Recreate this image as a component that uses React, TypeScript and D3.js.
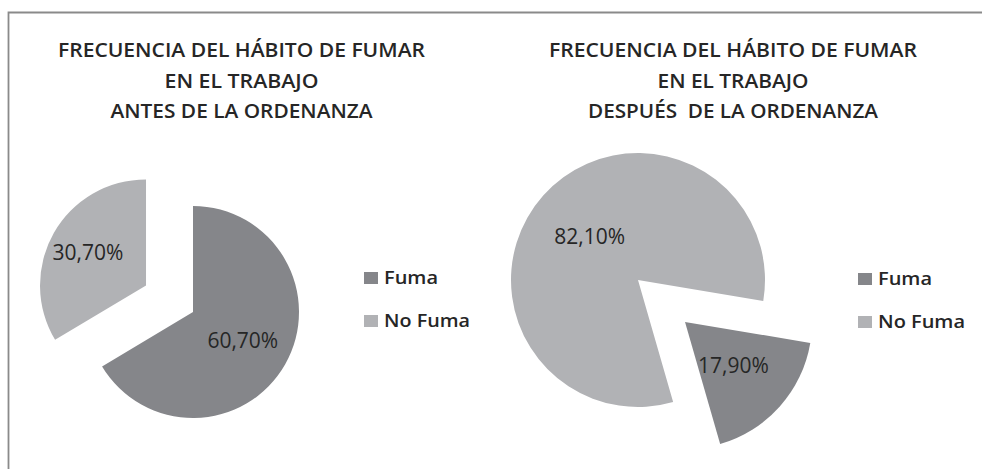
import React from "react";
import * as d3 from "d3";

const categories = ["Fuma", "No Fuma"];
const beforeValues = [60.7, 30.7];
const afterValues = [17.9, 82.1];
const titleBefore = ["FRECUENCIA DEL HÁBITO DE FUMAR", "EN EL TRABAJO", "ANTES DE LA ORDENANZA"];
const titleAfter = ["FRECUENCIA DEL HÁBITO DE FUMAR", "EN EL TRABAJO", "DESPUÉS  DE LA ORDENANZA"];

const COLORS = ["#85868a", "#b1b2b5"];
const TEXT = "#262626";
const FONT = "'Open Sans', 'DejaVu Sans', sans-serif";

const esLocale = d3.formatLocale({ decimal: ",", thousands: ".", grouping: [3], currency: ["", "€"] });
const fmt = (v: number) => esLocale.format(".2f")(v) + "%";

type PieCfg = {
  values: number[];
  cx: number;
  cy: number;
  r: number;
  start: number; // degrees
  explode: number[];
  labelK: number[];
};

const deg = (d: number) => (d * Math.PI) / 180;

function Pie({ cfg }: { cfg: PieCfg }) {
  const pie = d3
    .pie<number>()
    .sort(null)
    .value((d) => d)
    .startAngle(deg(cfg.start))
    .endAngle(deg(cfg.start) + 2 * Math.PI);
  const arcs = pie(cfg.values);
  const arc = d3.arc<d3.PieArcDatum<number>>().innerRadius(0).outerRadius(cfg.r);
  return (
    <g>
      {arcs.map((a, i) => {
        const mid = (a.startAngle + a.endAngle) / 2;
        const ox = Math.sin(mid) * cfg.explode[i];
        const oy = -Math.cos(mid) * cfg.explode[i];
        const lx = Math.sin(mid) * cfg.r * cfg.labelK[i];
        const ly = -Math.cos(mid) * cfg.r * cfg.labelK[i];
        return (
          <g key={i} transform={`translate(${cfg.cx + ox},${cfg.cy + oy})`}>
            <path d={arc(a) || ""} fill={COLORS[i]} />
            <text
              x={lx}
              y={ly}
              dy="0.36em"
              textAnchor="middle"
              fontFamily={FONT}
              fontSize={21}
              fill={TEXT}
            >
              {fmt(cfg.values[i])}
            </text>
          </g>
        );
      })}
    </g>
  );
}

function Title({ lines, cx, widths }: { lines: string[]; cx: number; widths: number[] }) {
  const baselines = [57, 88, 118];
  return (
    <g>
      {lines.map((l, i) => (
        <text
          key={i}
          x={cx}
          y={baselines[i]}
          textAnchor="middle"
          fontFamily={FONT}
          fontWeight={600}
          fontSize={20}
          fill={TEXT}
          textLength={widths[i]}
          lengthAdjust="spacingAndGlyphs"
          style={{ whiteSpace: "pre" }}
        >
          {l}
        </text>
      ))}
    </g>
  );
}

function Legend({ x, ys, widths }: { x: number; ys: number[]; widths: number[] }) {
  return (
    <g>
      {categories.map((c, i) => (
        <g key={c}>
          <rect x={x} y={ys[i] - 12} width={14} height={12} fill={COLORS[i]} />
          <text
            x={x + 20}
            y={ys[i]}
            fontFamily={FONT}
            fontWeight={600}
            fontSize={17.5}
            fill={TEXT}
            textLength={widths[i]}
            lengthAdjust="spacingAndGlyphs"
          >
            {c}
          </text>
        </g>
      ))}
    </g>
  );
}

export default function App() {
  const left: PieCfg = {
    values: beforeValues,
    cx: 193,
    cy: 312,
    r: 106,
    start: 0,
    explode: [0, 54],
    labelK: [0.54, 0.63],
  };
  const right: PieCfg = {
    values: afterValues,
    cx: 638,
    cy: 280,
    r: 127,
    start: 99.5,
    explode: [63, 0],
    labelK: [0.51, 0.51],
  };
  return (
    <svg
      width={982}
      height={469}
      style={{ position: "absolute", left: 0, top: 0, background: "#fff" }}
    >
      <rect x={0} y={0} width={982} height={469} fill="#fff" />
      <path d="M8.5,470 L8.5,12.5 L982,12.5" fill="none" stroke="#8a8a8a" strokeWidth={1.8} />
      <Title lines={titleBefore} cx={241.5} widths={[367, 154, 262]} />
      <Title lines={titleAfter} cx={733} widths={[368, 151, 290]} />
      <Pie cfg={left} />
      <Pie cfg={right} />
      <Legend x={364} ys={[284, 327]} widths={[54, 86]} />
      <Legend x={858} ys={[285, 328]} widths={[54, 87]} />
    </svg>
  );
}
